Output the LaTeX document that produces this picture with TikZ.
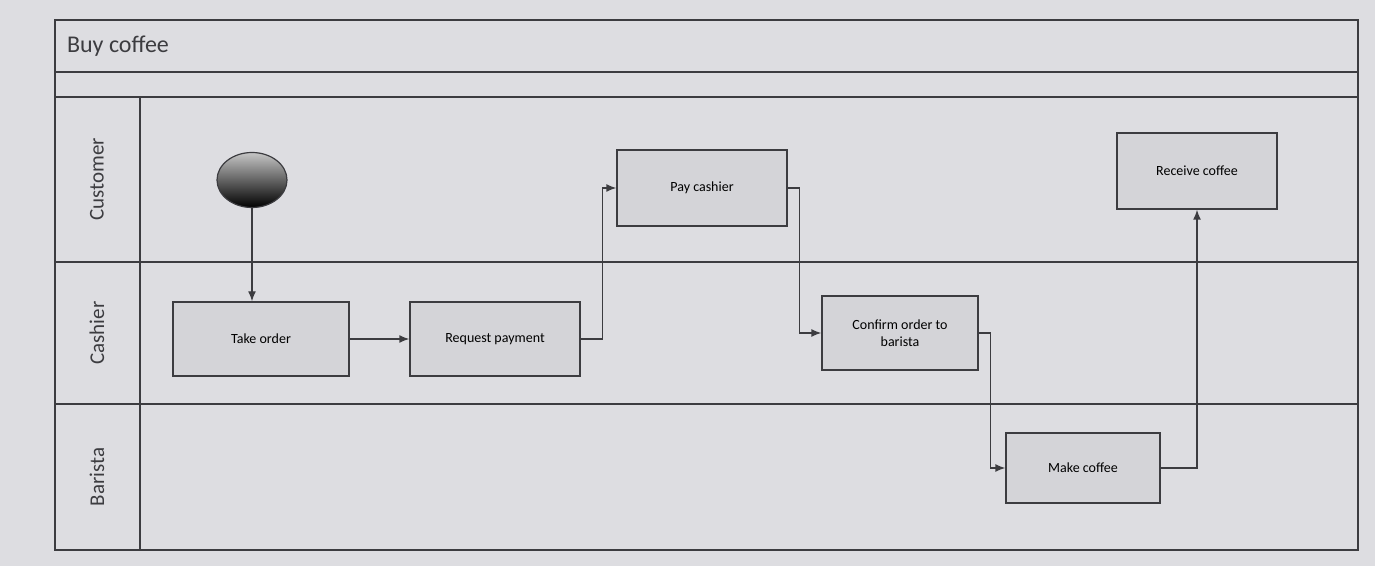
\documentclass[tikz,border=0pt]{standalone}
\usepackage{fontspec}
\setmainfont{Carlito}
\usetikzlibrary{arrows.meta,shapes.geometric}
\definecolor{bggray}{RGB}{221,221,225}
\definecolor{boxgray}{RGB}{212,212,216}
\definecolor{linegray}{RGB}{60,60,64}

\begin{document}
\begin{tikzpicture}
[   x=0.5pt,y=-0.5pt,
    line/.style={draw=linegray,line width=0.7pt},
    anode/.style={line,fill=boxgray,minimum width=#1,minimum height=37pt,align=center,font=\fontsize{7}{8.5}\selectfont},
    startnode/.style={ellipse,draw=linegray,line width=0.6pt,top color=gray!45,bottom color=black,minimum width=35pt,minimum height=27.5pt,inner sep=0pt},
    flow/.style={line,-{Latex[length=5pt,width=4pt]}},
    lanelabel/.style={rotate=90,font=\fontsize{10.5}{12}\selectfont,text=linegray},
]
    \useasboundingbox (0,0) rectangle (1375,566);
    \fill[bggray] (0,0) rectangle (1375,566);
    % pool and title
    \draw[line] (55,20) rectangle (1358,550);
    \draw[line] (55,72) -- (1358,72);
    \draw[line] (55,97) -- (1358,97);
    \draw[line] (140,97) -- (140,550);
    \node[anchor=west,font=\fontsize{12}{14}\selectfont,text=linegray] (title) at (60,46) {Buy coffee};
    % lanes
    \foreach \lane/\ytop/\ybot in {Customer/97/262,Cashier/262/404,Barista/404/550}
    {   \draw[line] (55,\ybot) -- (1358,\ybot);
        \node[lanelabel] (lane-\lane) at (97,{(\ytop+\ybot)/2}) {\lane};
    }
    % steps
    \node[startnode] (start) at (252,180) {};
    \node[anode=88pt] (take) at (261,339) {Take order};
    \node[anode=85pt] (req) at (495,339) {Request payment};
    \node[anode=85pt,minimum height=38pt] (pay) at (702,188) {Pay cashier};
    \node[anode=78pt] (conf) at (900,333) {Confirm order to\\barista};
    \node[anode=80pt,minimum height=38pt] (recv) at (1197,171) {Receive coffee};
    \node[anode=77pt,minimum height=35pt] (make) at (1083,468) {Make coffee};
    % flows
    \draw[flow] (start.south) -- (start.south |- take.north);
    \draw[flow] (take.east) -- (req.west);
    \draw[flow] (req.east) -- ++(22,0) |- (pay.west);
    \draw[flow] (pay.east) -- ++(12,0) |- (conf.west);
    \draw[flow] (conf.east) -- ++(12,0) |- (make.west);
    \draw[flow] (make.east) -| (recv.south);
\end{tikzpicture}
\end{document}
